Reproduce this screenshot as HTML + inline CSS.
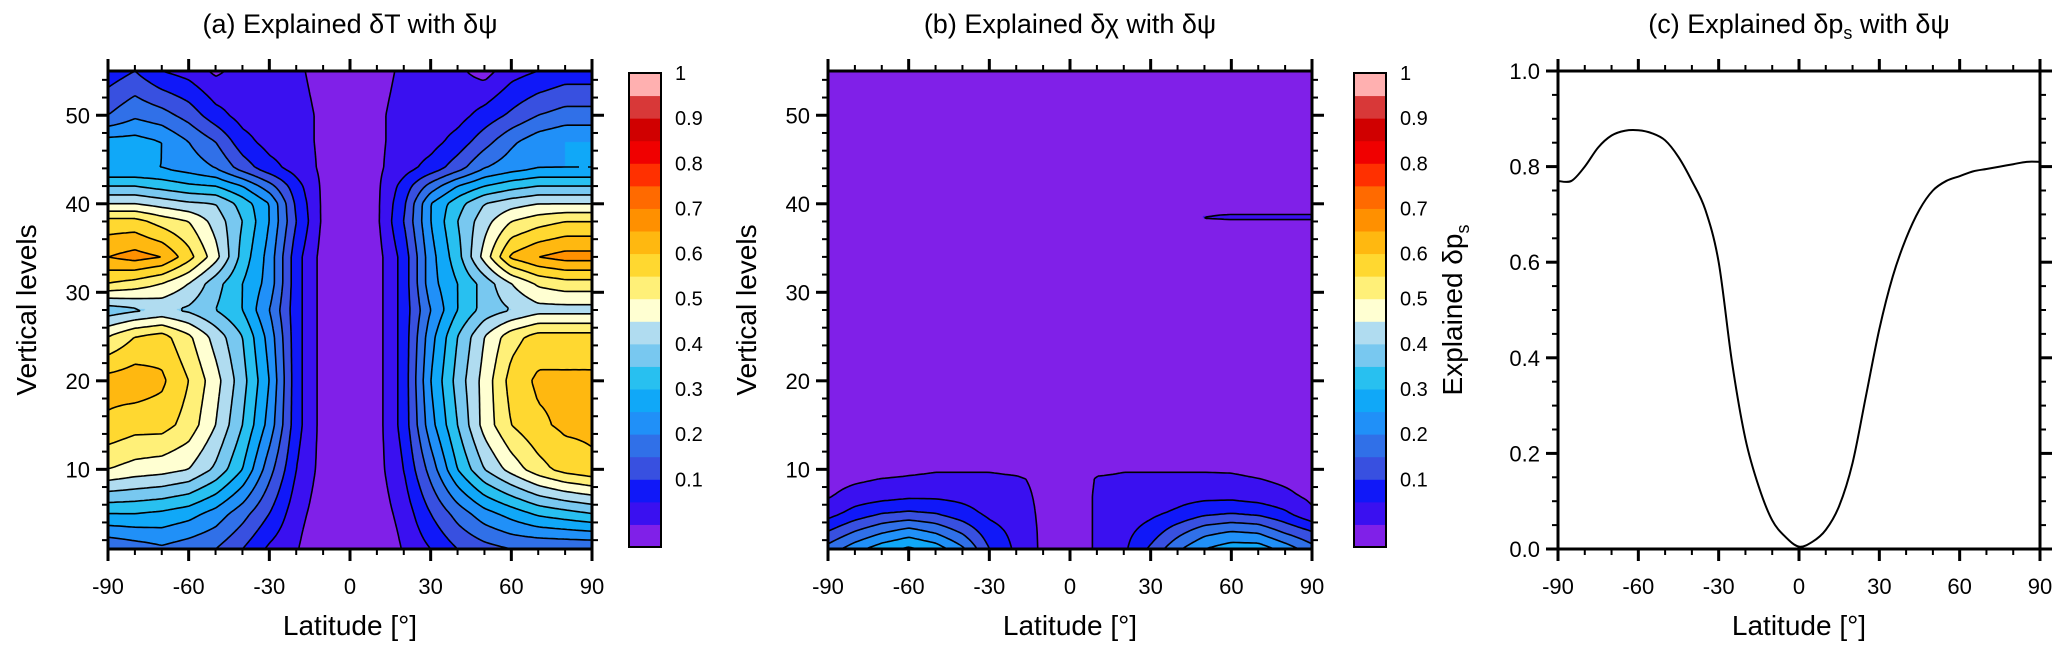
<!DOCTYPE html>
<html><head><meta charset="utf-8"><style>
body{margin:0;background:#fff;width:2067px;height:655px;overflow:hidden;position:relative;font-family:"Liberation Sans",Arial,sans-serif}
canvas{position:absolute}
svg{position:absolute;left:0;top:0}
</style></head><body>
<canvas id="ca" style="left:108px;top:71px" width="484" height="478"></canvas>
<canvas id="cb" style="left:828px;top:71px" width="484" height="478"></canvas>
<svg id="s" width="2067" height="655"></svg>
<script>
// ---- data ----
const latsGrid=[-90,-80,-70,-60,-50,-40,-30,-20,-10,0,10,20,30,40,50,60,70,80,90];
const levelsA=[1,5,10,15,20,25,28,31,34,38,40,42,44,47,50,55];
const valuesA=[
[.20,.22,.24,.22,.20,.15,.09,.055,.0,0,.0,.055,.10,.15,.18,.20,.20,.20,.20],
[.35,.35,.34,.32,.28,.22,.15,.07,.02,0,.02,.07,.15,.22,.28,.32,.36,.38,.40],
[.55,.53,.52,.50,.44,.35,.22,.10,.03,0,.03,.10,.22,.35,.45,.52,.58,.62,.64],
[.64,.62,.62,.58,.50,.40,.28,.12,.03,0,.03,.12,.28,.40,.52,.60,.64,.66,.66],
[.67,.68,.66,.60,.52,.42,.30,.12,.03,0,.03,.12,.30,.42,.52,.62,.66,.66,.66],
[.55,.60,.62,.56,.48,.40,.28,.12,.03,0,.03,.12,.28,.40,.50,.58,.62,.62,.62],
[.42,.44,.46,.44,.40,.35,.25,.12,.03,0,.03,.12,.25,.35,.42,.45,.48,.48,.48],
[.60,.58,.55,.50,.42,.35,.28,.12,.03,0,.03,.12,.28,.35,.42,.50,.56,.58,.58],
[.70,.72,.70,.62,.52,.38,.28,.12,.03,0,.03,.12,.28,.38,.52,.66,.70,.72,.72],
[.62,.62,.58,.55,.48,.40,.30,.15,.04,0,.04,.15,.30,.40,.48,.55,.58,.60,.60],
[.50,.50,.48,.46,.45,.38,.30,.14,.04,0,.04,.14,.30,.38,.45,.48,.50,.50,.50],
[.40,.40,.38,.36,.35,.30,.22,.12,.04,0,.04,.12,.22,.30,.35,.38,.40,.40,.40],
[.30,.30,.30,.28,.25,.18,.12,.08,.04,0,.04,.08,.12,.18,.25,.28,.30,.30,.30],
[.32,.32,.30,.25,.20,.12,.08,.07,.04,0,.04,.07,.08,.12,.18,.24,.28,.30,.30],
[.20,.24,.22,.18,.12,.08,.07,.07,.04,0,.04,.07,.07,.08,.12,.16,.20,.22,.22],
[.12,.15,.10,.08,.04,.07,.07,.06,.03,0,.03,.06,.07,.06,.03,.08,.10,.12,.12]];
const levelsB=[1,3,5,7,9,11,13,37,38.5,40,55];
const valuesB=[
[.22,.28,.33,.36,.33,.26,.15,.09,.04,0,.06,.09,.16,.24,.30,.33,.33,.28,.22],
[.15,.20,.24,.27,.24,.19,.12,.085,.04,0,.06,.085,.12,.18,.23,.25,.24,.19,.15],
[.08,.12,.15,.16,.15,.12,.09,.075,.04,0,.06,.075,.09,.11,.14,.15,.14,.11,.058],
[.045,.07,.08,.09,.09,.085,.075,.065,.04,0,.06,.065,.07,.08,.085,.085,.075,.06,.04],
[.03,.04,.05,.055,.06,.06,.06,.055,.04,0,.055,.06,.06,.06,.06,.058,.05,.04,.03],
[0,0,0,.02,.03,.03,.03,.02,.01,0,.01,.03,.03,.03,.03,.03,.02,0,0],
[0,0,0,0,0,0,0,0,0,0,0,0,0,0,0,0,0,0,0],
[0,0,0,0,0,0,0,0,0,0,0,0,0,0,0,0,0,0,0],
[0,0,0,0,0,0,0,0,0,0,0,0,0,0,.055,.062,.062,.062,.062],
[0,0,0,0,0,0,0,0,0,0,0,0,0,0,0,0,0,0,0],
[0,0,0,0,0,0,0,0,0,0,0,0,0,0,0,0,0,0,0]];
const latsC=[-90,-85,-80,-75,-70,-65,-60,-55,-50,-45,-40,-35,-30,-25,-20,-15,-10,-5,0,5,10,15,20,25,30,35,40,45,50,55,60,65,70,75,80,85,90];
const valuesC=[.77,.77,.80,.84,.865,.875,.876,.87,.855,.82,.77,.71,.60,.39,.23,.13,.06,.025,.005,.015,.04,.09,.18,.32,.46,.57,.65,.71,.75,.77,.78,.79,.795,.80,.805,.81,.81];
const cbLabels=["0.1","0.2","0.3","0.4","0.5","0.6","0.7","0.8","0.9","1"];
const colors=["#8020E8","#3A10F0","#1018F8","#3850E0","#3070E8","#2090F8","#10A8F8","#28C0F0","#78C8F0","#B0DCF0","#FFFFD2","#FFF078","#FFD830","#FFB810","#FF9000","#FF6A00","#FF3000","#F00000","#D00000","#D83838","#FFB0B0"];
const xTicks=[-90,-60,-30,0,30,60,90];

const NS="http://www.w3.org/2000/svg";
const svg=document.getElementById('s');
function el(t,a,p){const e=document.createElementNS(NS,t);for(const k in a)e.setAttribute(k,a[k]);(p||svg).appendChild(e);return e;}
function txt(x,y,s,size,anchor,p){const e=el('text',{x:x,y:y,'font-size':size,'text-anchor':anchor||'middle',fill:'#000'},p);e.textContent=s;return e;}
function rgb(h){return[parseInt(h.slice(1,3),16),parseInt(h.slice(3,5),16),parseInt(h.slice(5,7),16)];}
function interp(levels,vals,lat,lev){
  let fi=(lat+90)/10;let i=Math.min(17,Math.max(0,Math.floor(fi)));let tx=fi-i;
  let j=0;while(j<levels.length-2&&lev>levels[j+1])j++;
  let ty=(lev-levels[j])/(levels[j+1]-levels[j]);ty=Math.max(0,Math.min(1,ty));
  const a=vals[j][i],b=vals[j][i+1],c=vals[j+1][i],d=vals[j+1][i+1];
  return a*(1-tx)*(1-ty)+b*tx*(1-ty)+c*(1-tx)*ty+d*tx*ty;}
const W=484,H=478,L0=1,L1=55;
function contourPanel(cid,ox,oy,levels,vals,name){
  const cv=document.getElementById(cid),ctx=cv.getContext('2d'),img=ctx.createImageData(W,H);
  const cols=colors.map(rgb);
  for(let py=0;py<H;py++){const lev=L1-(L1-L0)*(py+.5)/H;
    for(let px=0;px<W;px++){const lat=-90+180*(px+.5)/W;const v=interp(levels,vals,lat,lev);
      let k=Math.floor(v/0.05+1e-9);k=Math.max(0,Math.min(20,k));const c=cols[k];const o=(py*W+px)*4;
      img.data[o]=c[0];img.data[o+1]=c[1];img.data[o+2]=c[2];img.data[o+3]=255;}}
  ctx.putImageData(img,0,0);
  const st=3,nx=Math.ceil(W/st)+1,ny=Math.ceil(H/st)+1,g=[];
  for(let j=0;j<ny;j++){g.push([]);const y=Math.min(H,j*st);const lev=L1-(L1-L0)*y/H;
    for(let i=0;i<nx;i++){const x=Math.min(W,i*st);g[j].push(interp(levels,vals,-90+180*x/W,lev));}}
  const grp=el('g',{fill:'none',stroke:'#000','stroke-width':1.6});
  
  
  for(let k=1;k<=19;k++){const c=k*0.05;let d='';
    for(let j=0;j<ny-1;j++)for(let i=0;i<nx-1;i++){
      const x0=ox+Math.min(W,i*st),x1=ox+Math.min(W,(i+1)*st),y0=oy+Math.min(H,j*st),y1=oy+Math.min(H,(j+1)*st);
      const a=g[j][i],b=g[j][i+1],cc=g[j+1][i+1],dd=g[j+1][i];const p=[];
      if((a-c)*(b-c)<0)p.push([x0+(x1-x0)*(c-a)/(b-a),y0]);
      if((b-c)*(cc-c)<0)p.push([x1,y0+(y1-y0)*(c-b)/(cc-b)]);
      if((cc-c)*(dd-c)<0)p.push([x0+(x1-x0)*(c-dd)/(cc-dd),y1]);
      if((dd-c)*(a-c)<0)p.push([x0,y0+(y1-y0)*(c-a)/(dd-a)]);
      for(let q=0;q+1<p.length;q+=2)d+='M'+p[q][0].toFixed(1)+' '+p[q][1].toFixed(1)+'L'+p[q+1][0].toFixed(1)+' '+p[q+1][1].toFixed(1);}
    if(d){const pe=el('path',{d:d},grp);
      
      }}
}
function frame(ox,oy,w,h,name){
  const r=el('rect',{x:ox,y:oy,width:w,height:h,fill:'none',stroke:'#000','stroke-width':3});
  
  }
function xAxis(ox,oy,w,h,name){
  const xs=v=>ox+(v+90)/180*w;
  const g=el('g',{stroke:'#000'});
  
  
  for(let v=-90;v<=90;v+=10){const maj=v%30===0;const L=maj?12:6;const sw=maj?3:2;
    el('line',{x1:xs(v),x2:xs(v),y1:oy+h,y2:oy+h+L,'stroke-width':sw},g);
    el('line',{x1:xs(v),x2:xs(v),y1:oy,y2:oy-L,'stroke-width':sw},g);}
  xTicks.forEach(v=>{const t=txt(xs(v),oy+h+45,String(v),22,'middle');});
  const t=txt(ox+w/2,oy+h+86,'Latitude [°]',28);
}
function yAxisLevels(ox,oy,w,h,name){
  const ys=v=>oy+h-(v-L0)/(L1-L0)*h;
  const g=el('g',{stroke:'#000'});
  
  
  for(let v=2;v<=54;v+=2){const maj=v%10===0;const L=maj?12:6;const sw=maj?3:2;
    el('line',{x1:ox,x2:ox-L,y1:ys(v),y2:ys(v),'stroke-width':sw},g);
    el('line',{x1:ox+w,x2:ox+w+L,y1:ys(v),y2:ys(v),'stroke-width':sw},g);}
  for(let v=10;v<=50;v+=10){const t=txt(ox-18,ys(v)+8,String(v),22,'end');}
  const t=txt(0,0,'Vertical levels',28);t.setAttribute('transform','translate('+(ox-72)+','+(oy+h/2)+') rotate(-90)');
  
}
function colorbar(x,y,w,h,name){
  const g=el('g',{});
  
  
  const bh=h/21;
  colors.forEach((c,k)=>{const r=el('rect',{x:x,y:y+h-(k+1)*bh,width:w,height:bh+0.5,fill:c},g);
    });
  el('rect',{x:x,y:y,width:w,height:h,fill:'none',stroke:'#000','stroke-width':2},g);
  cbLabels.forEach((s,i)=>{const t=txt(x+w+14,y+h-(2*(i+1)+1)*bh+7,s,20,'start',g);});
}
contourPanel('ca',108,71,levelsA,valuesA,'panel-a');
frame(108,71,W,H,'panel-a');xAxis(108,71,W,H,'panel-a');yAxisLevels(108,71,W,H,'panel-a');
colorbar(629,73,32,474,'panel-a');
let t=txt(350,33,'(a) Explained δT with δψ',27);
contourPanel('cb',828,71,levelsB,valuesB,'panel-b');
frame(828,71,W,H,'panel-b');xAxis(828,71,W,H,'panel-b');yAxisLevels(828,71,W,H,'panel-b');
colorbar(1354,73,32,474,'panel-b');
t=txt(1070,33,'(b) Explained δχ with δψ',27);
(function(){
  const ox=1558,oy=71,w=482,h=478;
  const xs=v=>ox+(v+90)/180*w, ys=v=>oy+h-v*h;
  const g=el('g',{stroke:'#000'});
  
  
  for(let v=-90;v<=90;v+=10){const maj=v%30===0;const L=maj?12:6;const sw=maj?3:2;
    el('line',{x1:xs(v),x2:xs(v),y1:oy+h,y2:oy+h+L,'stroke-width':sw},g);
    el('line',{x1:xs(v),x2:xs(v),y1:oy,y2:oy-L,'stroke-width':sw},g);}
  for(let k=0;k<=20;k++){const v=k*0.05;const maj=k%4===0;const L=maj?12:6;const sw=maj?3:2;
    el('line',{x1:ox,x2:ox-L,y1:ys(v),y2:ys(v),'stroke-width':sw},g);
    el('line',{x1:ox+w,x2:ox+w+L,y1:ys(v),y2:ys(v),'stroke-width':sw},g);}
  ['0.0','0.2','0.4','0.6','0.8','1.0'].forEach((s,i)=>{const tt=txt(ox-18,ys(i*0.2)+8,s,22,'end');});
  xTicks.forEach(v=>{const tt=txt(xs(v),oy+h+45,String(v),22);});
  let tt=txt(ox+w/2,oy+h+86,'Latitude [°]',28);
  tt=el('text',{'font-size':28,'text-anchor':'middle',transform:'translate('+(ox-96)+','+(oy+h/2)+') rotate(-90)'});
  tt.innerHTML='Explained δp<tspan font-size="18" dy="7">s</tspan>';
  
  tt=el('text',{x:ox+w/2,y:33,'font-size':27,'text-anchor':'middle'});
  tt.innerHTML='(c) Explained δp<tspan font-size="18" dy="6">s</tspan><tspan dy="-6"> with δψ</tspan>';
  
  const P=latsC.map((v,i)=>[xs(v),ys(valuesC[i])]);
  let d='M'+P[0][0]+' '+P[0][1];
  for(let i=0;i<P.length-1;i++){const p0=P[Math.max(0,i-1)],p1=P[i],p2=P[i+1],p3=P[Math.min(P.length-1,i+2)];
    d+='C'+(p1[0]+(p2[0]-p0[0])/6)+' '+(p1[1]+(p2[1]-p0[1])/6)+' '+(p2[0]-(p3[0]-p1[0])/6)+' '+(p2[1]-(p3[1]-p1[1])/6)+' '+p2[0]+' '+p2[1];}
  const line=el('path',{d:d,fill:'none',stroke:'#000','stroke-width':2});
  
  
  frame(ox,oy,w,h,'panel-c');
})();
</script>
</body></html>
